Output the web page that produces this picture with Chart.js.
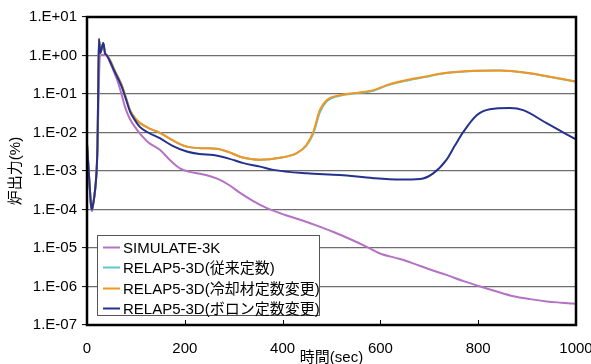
<!DOCTYPE html>
<html>
<head>
<meta charset="utf-8">
<script src="https://cdn.jsdelivr.net/npm/chart.js@4.4.0/dist/chart.umd.min.js"></script>
<style>
  html, body { margin: 0; padding: 0; background: #fff; }
</style>
</head>
<body>
<canvas id="grafico" width="591" height="364"></canvas>
<script>
// Datos (tiempo en s, potencia en %)
const simTime  = [0, 3, 6, 8, 10, 12, 15, 18, 20, 21.5, 23, 25, 27, 33, 40, 47, 55, 63, 70, 78, 88, 98, 108, 125, 149, 170, 190, 210, 231, 252, 272, 292, 313, 340, 367, 400, 436, 470, 504, 540, 572, 599, 640, 667, 700, 735, 770, 804, 838, 872, 906, 940, 970, 1000];
const simValue = [5.0e-3, 1.26e-3, 3.2e-4, 1.3e-4, 9.0e-5, 1.2e-4, 2.2e-4, 5.0e-4, 1.26e-3, 4.0e-3, 3.2e-2, 0.40, 1.0, 1.05, 1.0, 0.66, 0.38, 0.21, 0.105, 0.045, 0.022, 0.014, 9.5e-3, 5.6e-3, 3.55e-3, 1.9e-3, 1.17e-3, 9.5e-4, 8.5e-4, 7.3e-4, 5.9e-4, 4.2e-4, 2.7e-4, 1.66e-4, 1.1e-4, 7.6e-5, 5.4e-5, 3.8e-5, 2.6e-5, 1.66e-5, 1.07e-5, 7.2e-6, 5.2e-6, 4.0e-6, 2.8e-6, 2.0e-6, 1.38e-6, 1.0e-6, 7.4e-7, 5.6e-7, 4.7e-7, 4.1e-7, 3.8e-7, 3.55e-7];

const relTime  = [0, 3, 6, 8, 10, 12, 15, 18, 20, 21.5, 23, 24.5, 27, 33.4, 36.8, 40, 47, 55, 63, 71, 80, 88, 98, 108, 125, 149, 175, 204, 240, 265, 290, 313, 335, 354, 395, 429, 449, 463, 476, 490, 517, 550, 586, 613, 640, 690, 735, 790, 845, 900, 950, 1000];
const relValue = [5.0e-3, 1.26e-3, 3.2e-4, 1.4e-4, 1.0e-4, 1.26e-4, 2.2e-4, 5.0e-4, 1.26e-3, 5.0e-3, 0.16, 2.7, 1.16, 2.1, 1.15, 1.03, 0.76, 0.45, 0.28, 0.17, 0.079, 0.038, 0.024, 0.0178, 0.0132, 9.8e-3, 6.3e-3, 4.3e-3, 3.9e-3, 3.8e-3, 3.1e-3, 2.35e-3, 2.05e-3, 1.95e-3, 2.2e-3, 2.9e-3, 4.6e-3, 9.5e-3, 0.033, 0.064, 0.090, 0.104, 0.122, 0.165, 0.205, 0.275, 0.35, 0.395, 0.405, 0.35, 0.272, 0.208];

const coolTime  = relTime;
const coolValue = [5.0e-3, 1.26e-3, 3.2e-4, 1.4e-4, 1.0e-4, 1.26e-4, 2.2e-4, 5.0e-4, 1.26e-3, 5.0e-3, 0.16, 2.7, 1.16, 2.1, 1.15, 1.03, 0.76, 0.45, 0.28, 0.17, 0.079, 0.038, 0.024, 0.0178, 0.0132, 9.8e-3, 6.3e-3, 4.3e-3, 3.9e-3, 3.8e-3, 3.1e-3, 2.35e-3, 2.05e-3, 1.95e-3, 2.2e-3, 2.9e-3, 4.8e-3, 0.0105, 0.038, 0.069, 0.093, 0.107, 0.126, 0.17, 0.21, 0.28, 0.355, 0.40, 0.41, 0.355, 0.275, 0.21];

const boronTime  = [0, 3, 6, 8, 10, 12, 15, 18, 20, 21.5, 23, 24.5, 27.2, 33.4, 36.8, 40, 47, 55, 63, 71, 80, 88, 98, 108, 125, 149, 175, 204, 230, 258, 290, 320, 354, 381, 449, 517, 586, 640, 681, 708, 735, 752, 770, 797, 824, 865, 892, 940, 1000];
const boronValue = [5.0e-3, 1.26e-3, 3.2e-4, 1.4e-4, 1.0e-4, 1.26e-4, 2.2e-4, 5.0e-4, 1.26e-3, 5.0e-3, 0.16, 2.7, 1.16, 2.1, 1.15, 1.03, 0.71, 0.42, 0.26, 0.155, 0.071, 0.035, 0.021, 0.014, 0.010, 7.1e-3, 4.5e-3, 3.2e-3, 2.75e-3, 2.6e-3, 2.1e-3, 1.6e-3, 1.3e-3, 1.07e-3, 8.7e-4, 7.9e-4, 6.5e-4, 6.0e-4, 6.2e-4, 8.7e-4, 1.95e-3, 4.5e-3, 0.0105, 0.028, 0.040, 0.043, 0.038, 0.0174, 6.6e-3];

const seriesNames = ['SIMULATE-3K', 'RELAP5-3D(従来定数)', 'RELAP5-3D(冷却材定数変更)', 'RELAP5-3D(ボロン定数変更)'];
const seriesColors = ['#b472c4', '#5cc8c8', '#f5941f', '#25318e'];

const xTicks = [0, 200, 400, 600, 800, 1000];
const yTicks = [1e-7, 1e-6, 1e-5, 1e-4, 1e-3, 1e-2, 1e-1, 1e0, 1e1];

const FONT = "'Liberation Sans', Arial, 'Noto Sans CJK JP', sans-serif";

function puntos(tiempos, valores) {
    return tiempos.map((t, i) => ({ x: t, y: valores[i] }));
}

// Formato tipo Excel: 1.E-01
function formatoE(v) {
    const e = Math.round(Math.log10(v));
    const s = e < 0 ? '-' : '+';
    return '1.E' + s + String(Math.abs(e)).padStart(2, '0');
}

// Marco negro y marcas interiores del eje X
const marco = {
    id: 'marco',
    afterDatasetsDraw(chart) {
        const { ctx, chartArea: a } = chart;
        const xs = chart.scales.x;
        ctx.save();
        ctx.strokeStyle = '#000';
        ctx.lineWidth = 1;
        xTicks.forEach(v => {
            const px = Math.round(xs.getPixelForValue(v)) + 0.5;
            ctx.beginPath();
            ctx.moveTo(px, a.bottom);
            ctx.lineTo(px, a.bottom - 5);
            ctx.stroke();
        });
        ctx.lineWidth = 2.5;
        ctx.strokeRect(a.left, a.top, a.right - a.left, a.bottom - a.top);
        ctx.restore();
    }
};

// Leyenda dentro del área del gráfico
const leyenda = {
    id: 'leyenda',
    afterDraw(chart) {
        const ctx = chart.ctx;
        const x = 97, y = 235, w = 222, h = 80;
        ctx.save();
        ctx.fillStyle = '#fff';
        ctx.fillRect(x, y, w, h);
        ctx.strokeStyle = '#555';
        ctx.lineWidth = 1;
        ctx.strokeRect(x + 0.5, y + 0.5, w, h);
        ctx.font = '15px ' + FONT;
        ctx.textBaseline = 'middle';
        chart.data.datasets.forEach((ds, i) => {
            const cy = Math.round(y + 12 + i * 20.3) + 0.5;
            ctx.strokeStyle = ds.borderColor;
            ctx.lineWidth = 2;
            ctx.beginPath();
            ctx.moveTo(x + 6, cy);
            ctx.lineTo(x + 23, cy);
            ctx.stroke();
            ctx.fillStyle = '#000';
            ctx.fillText(ds.label, x + 26, cy + 1);
        });
        ctx.restore();
    }
};

const datos = [
    puntos(simTime, simValue),
    puntos(relTime, relValue),
    puntos(coolTime, coolValue),
    puntos(boronTime, boronValue)
];
const orden = [3, 2, 1, 0];

Chart.defaults.font.family = FONT;
Chart.defaults.font.size = 15;
Chart.defaults.color = '#000';

new Chart(document.getElementById('grafico').getContext('2d'), {
    type: 'line',
    data: {
        datasets: seriesNames.map((n, i) => ({
            label: n,
            data: datos[i],
            borderColor: seriesColors[i],
            backgroundColor: seriesColors[i],
            borderWidth: 2,
            pointRadius: 0,
            cubicInterpolationMode: 'monotone',
            fill: false,
            order: orden[i]
        }))
    },
    options: {
        responsive: false,
        animation: false,
        layout: { padding: { left: 0, right: 15, top: 17, bottom: 0 } },
        plugins: {
            legend: { display: false },
            tooltip: { enabled: false }
        },
        scales: {
            x: {
                type: 'linear',
                min: 0,
                max: 1000,
                afterBuildTicks(s) { s.ticks = xTicks.map(v => ({ value: v })); },
                ticks: { callback: v => String(v), padding: 15, color: '#000', autoSkip: false, maxRotation: 0 },
                grid: { display: true, drawOnChartArea: false, drawTicks: false },
                border: { display: false },
                title: { display: true, text: '時間(sec)', color: '#000', padding: { top: 0, bottom: -3 } },
                afterFit(s) { s.height = 39; s.paddingLeft = 0; s.paddingRight = 0; }
            },
            y: {
                type: 'logarithmic',
                min: 1e-7,
                max: 10,
                afterBuildTicks(s) { s.ticks = yTicks.map(v => ({ value: v })); },
                ticks: { callback: v => formatoE(v), padding: 5, color: '#000', autoSkip: false },
                grid: { color: '#6e6e6e', lineWidth: 1.2, tickLength: 5, tickColor: '#000', tickWidth: 1 },
                border: { display: false },
                title: { display: true, text: '炉出力(%)', color: '#000', font: { size: 15 }, padding: { top: 7, bottom: 0 } },
                afterFit(s) { s.width = 87; s.paddingTop = 0; s.paddingBottom = 0; }
            }
        }
    },
    plugins: [marco, leyenda]
});
</script>
</body>
</html>
